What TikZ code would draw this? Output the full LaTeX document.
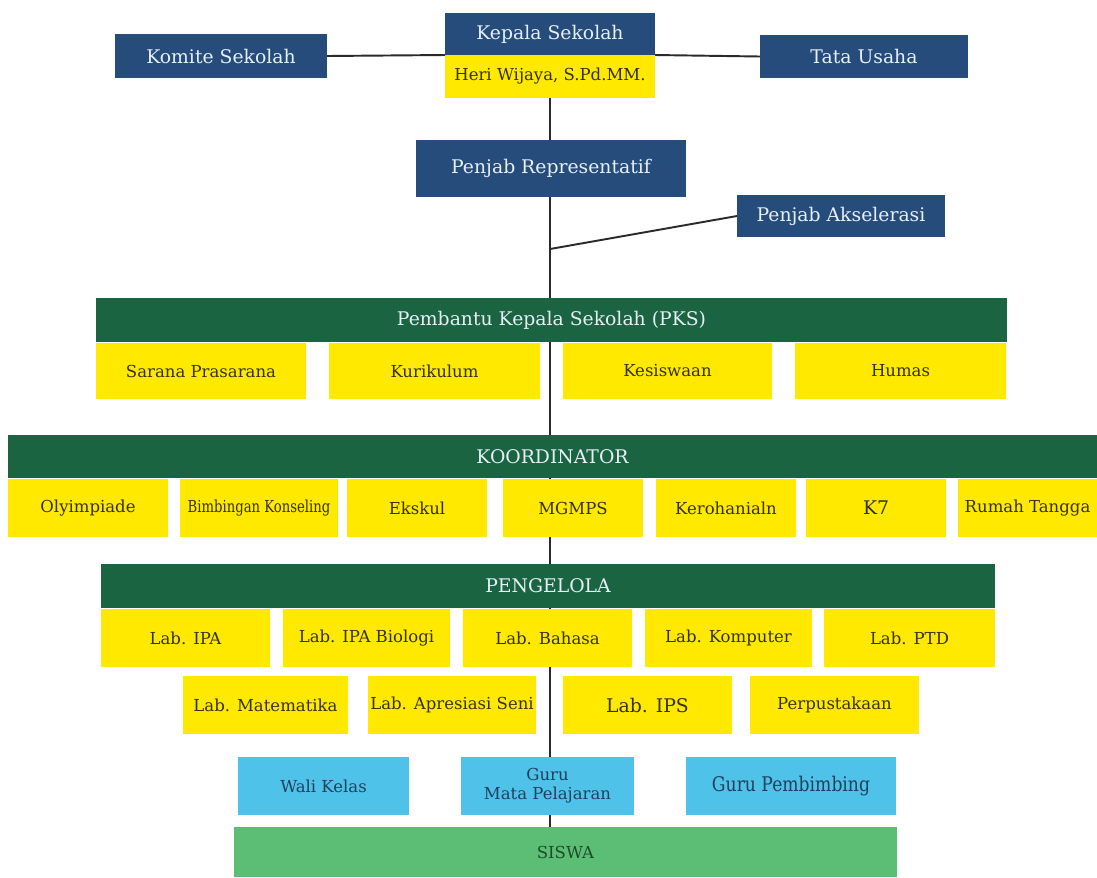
\documentclass[tikz,border=0pt]{standalone}
\usepackage{fontspec}
\setmainfont{DejaVu Serif}
\usetikzlibrary{backgrounds}
\definecolor{navy}{HTML}{264C7C}
\definecolor{dgreen}{HTML}{1B6442}
\definecolor{yel}{HTML}{FFE900}
\definecolor{lblue}{HTML}{4EC2E8}
\definecolor{sgreen}{HTML}{5CBE74}
\definecolor{ltxt}{HTML}{E6EEF6}
\definecolor{ytxt}{HTML}{33310F}
\definecolor{btxt}{HTML}{22405E}
\definecolor{stxt}{HTML}{1E4A2C}
\definecolor{lcol}{HTML}{2A2A2A}
\newcommand{\bx}[7]{%
  \pgfmathsetmacro\cx{(#3+#4)/2}\pgfmathsetmacro\cy{(#5+#6)/2}%
  \pgfmathsetmacro\ww{(#4-#3)*0.02}\pgfmathsetmacro\hh{(#6-#5)*0.02}%
  \node[#2, minimum width=\ww cm, minimum height=\hh cm] (#1) at (\cx,\cy) {#7};}
\tikzset{
  base/.style={rectangle, inner sep=0pt, outer sep=0pt, draw=none, align=center},
  navybox/.style={base, fill=navy, text=ltxt, font=\fontsize{10.7}{12}\selectfont},
  headbox/.style={base, fill=dgreen, text=ltxt, font=\fontsize{10.7}{12}\selectfont},
  yelbox/.style={base, fill=yel, text=ytxt, font=\fontsize{9.4}{11}\selectfont},
  bluebox/.style={base, fill=lblue, text=btxt, font=\fontsize{9.4}{11}\selectfont},
  siswabox/.style={base, fill=sgreen, text=stxt, font=\fontsize{9.4}{11}\selectfont},
  conn/.style={draw=lcol, line width=1.1pt}
}
\begin{document}
\begin{tikzpicture}[x=0.02cm,y=-0.02cm]
\useasboundingbox (0,0) rectangle (1097,877);
% top
\bx{km}{navybox}{115}{327}{34}{78}{Komite Sekolah}
\bx{kep}{navybox}{445}{655}{13}{55}{Kepala Sekolah}
\bx{hw}{yelbox}{445}{655}{55}{98}{Heri Wijaya, S.Pd.MM.}
\bx{tu}{navybox}{760}{968}{35}{78}{Tata Usaha}
\bx{pr}{navybox}{416}{686}{140}{197}{Penjab Representatif}
\bx{pa}{navybox}{737}{945}{195}{237}{Penjab Akselerasi}
% PKS
\bx{pks}{headbox}{96}{1007}{298}{342}{Pembantu Kepala Sekolah (PKS)}
\bx{sp}{yelbox}{96}{306}{343}{399}{Sarana Prasarana}
\bx{kur}{yelbox}{329}{540}{343}{399}{Kurikulum}
\bx{kes}{yelbox}{563}{772}{343}{399}{Kesiswaan}
\bx{hum}{yelbox}{795}{1006}{343}{399}{Humas}
% KOORDINATOR
\bx{koor}{headbox}{8}{1097}{435}{478}{KOORDINATOR}
\bx{oly}{yelbox}{8}{168}{479}{537}{Olyimpiade}
\bx{bk}{yelbox}{180}{338}{479}{537}{\scalebox{0.8}[1]{Bimbingan Konseling}}
\bx{eks}{yelbox}{347}{487}{479}{537}{Ekskul}
\bx{mgm}{yelbox}{503}{643}{479}{537}{MGMPS}
\bx{ker}{yelbox}{656}{796}{479}{537}{Kerohanialn}
\bx{k7}{yelbox, font=\fontsize{10.7}{12}\selectfont}{806}{946}{479}{537}{K7}
\bx{rt}{yelbox}{958}{1097}{479}{537}{Rumah Tangga}
% PENGELOLA
\bx{pen}{headbox}{101}{995}{564}{608}{PENGELOLA}
\bx{lipa}{yelbox}{101}{270}{609}{667}{Lab. IPA}
\bx{lbio}{yelbox}{283}{450}{609}{667}{Lab. IPA Biologi}
\bx{lbah}{yelbox}{463}{632}{609}{667}{Lab. Bahasa}
\bx{lkom}{yelbox}{645}{812}{609}{667}{Lab. Komputer}
\bx{lptd}{yelbox}{824}{995}{609}{667}{Lab. PTD}
\bx{lmat}{yelbox}{183}{348}{676}{734}{Lab. Matematika}
\bx{lapr}{yelbox}{368}{536}{676}{734}{Lab. Apresiasi Seni}
\bx{lips}{yelbox, font=\fontsize{10.7}{12}\selectfont}{563}{732}{676}{734}{Lab. IPS}
\bx{perp}{yelbox}{750}{919}{676}{734}{Perpustakaan}
% guru
\bx{wk}{bluebox}{238}{409}{757}{815}{Wali Kelas}
\bx{gmp}{bluebox}{461}{634}{757}{815}{Guru\\Mata Pelajaran}
\bx{gp}{bluebox, font=\fontsize{11.5}{12}\selectfont}{686}{896}{757}{815}{\scalebox{0.85}[1]{Guru Pembimbing}}
\bx{sis}{siswabox}{234}{897}{827}{877}{SISWA}
% connectors
\coordinate (ak) at (550,249);
\begin{pgfonlayer}{background}
\draw[conn] (hw.south) -- (hw.south |- sis.north);
\end{pgfonlayer}
\draw[conn] (km.east) -- (kep.south west);
\draw[conn] (kep.south east) -- (tu.west);
\draw[conn] (pa.west) -- (ak);
\end{tikzpicture}
\end{document}
